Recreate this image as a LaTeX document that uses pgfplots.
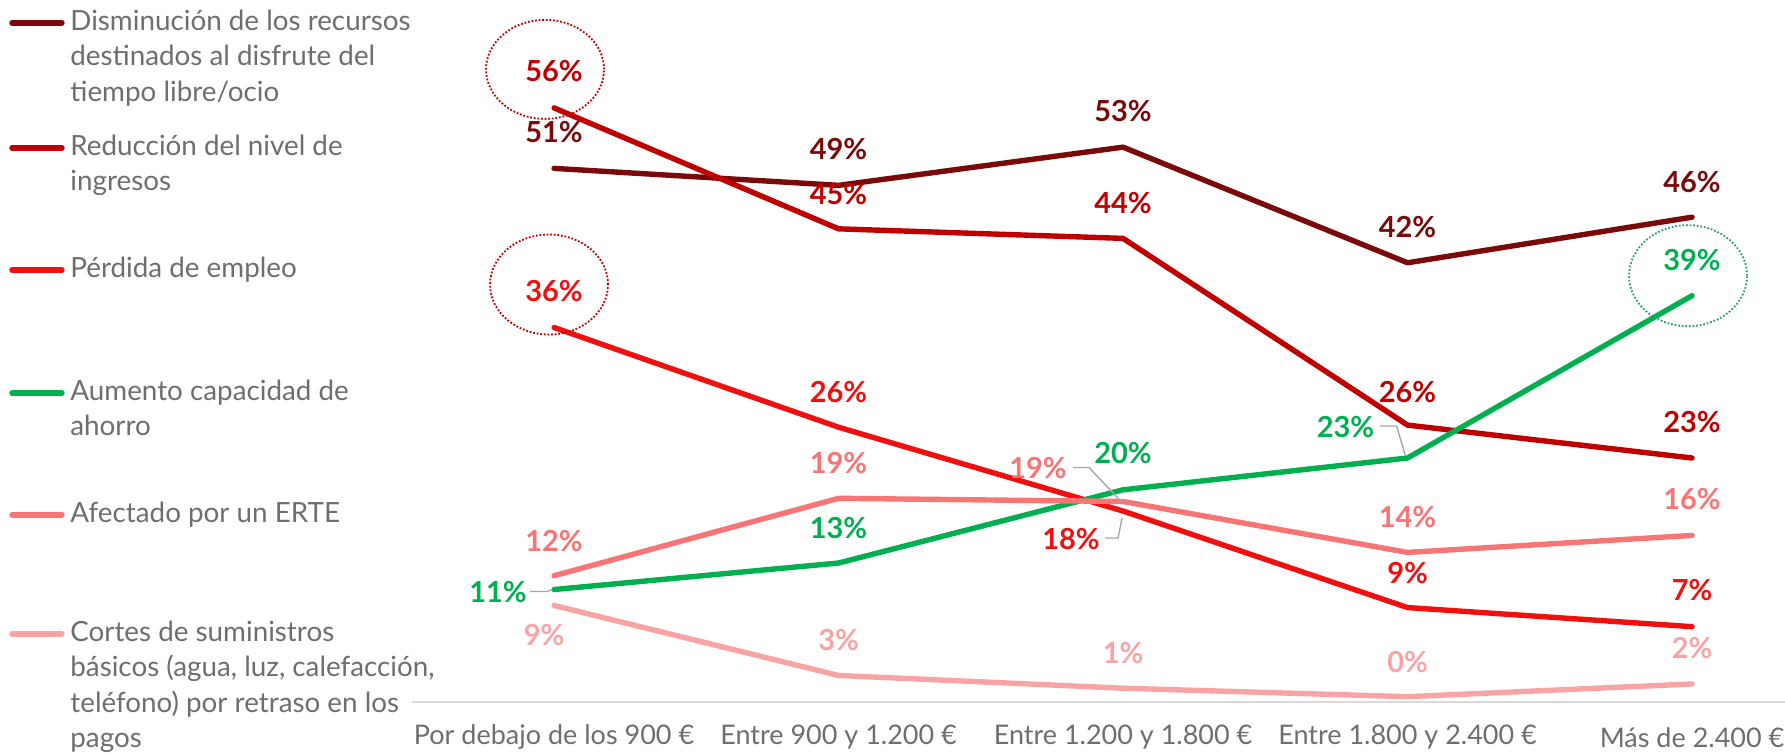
\documentclass[border=0pt]{standalone}
\usepackage{pgfplots}
\pgfplotsset{compat=1.18}
\usepackage{fontspec}
\setmainfont{Lato}
\definecolor{cDis}{HTML}{7A0A0A}
\definecolor{cRed}{HTML}{C00000}
\definecolor{cPer}{HTML}{F01010}
\definecolor{cAum}{HTML}{00B050}
\definecolor{cErte}{HTML}{F87575}
\definecolor{cCor}{HTML}{F9A4A4}
\definecolor{cTxt}{HTML}{6E6E6E}
\definecolor{cLead}{HTML}{A6A6A6}
\definecolor{cAxis}{HTML}{D9D9D9}
\definecolor{cCircR}{HTML}{C00000}
\definecolor{cCircG}{HTML}{2E9E6E}
\newcommand\labfont{\fontsize{14.5}{16}\selectfont\bfseries}
\newcommand\legfont{\fontsize{13.9}{17.7}\selectfont}
\newcommand\legentry[3]{%
  \draw[#1, line width=2.7pt, line cap=round] (6pt,#2pt) -- (31pt,#2pt);
  \node[anchor=base west, inner sep=0pt, text=cTxt, font=\legfont] at (35pt,{#2pt-3.8pt}) {\parbox[t]{230pt}{\raggedright #3}};
}
\pgfplotsset{
  ser/.style={line width=2.7pt, line cap=round, line join=round, mark=none, color=#1,
    nodes near coords={\pgfplotspointmeta\%},
    point meta=explicit symbolic,
    visualization depends on={value \thisrow{dx}\as\dx},
    visualization depends on={value \thisrow{dy}\as\dy},
    nodes near coords style={anchor=center, inner sep=0pt, xshift=\dx pt, yshift=\dy pt, font=\labfont, text=#1},
  }
}
\begin{document}
\begin{tikzpicture}
\useasboundingbox (0,0) rectangle (892.5pt,377pt);
\legentry{cDis}{365.5}{Disminución de los recursos\\destinados al disfrute del\\tiempo libre/ocio}
\legentry{cRed}{303}{Reducción del nivel de\\ingresos}
\legentry{cPer}{242}{Pérdida de empleo}
\legentry{cAum}{180.5}{Aumento capacidad de\\ahorro}
\legentry{cErte}{119.5}{Afectado por un ERTE}
\legentry{cCor}{60}{Cortes de suministros\\básicos (agua, luz, calefacción,\\teléfono) por retraso en los\\pagos}
\begin{axis}[
  at={(205.9pt,26pt)}, anchor=south west,
  scale only axis, width=687.07pt, height=350.1pt,
  xmin=-0.5, xmax=4.33, ymin=0, ymax=66,
  clip=false,
  hide y axis,
  axis x line=bottom,
  x axis line style={-, draw=cAxis, line width=0.8pt},
  xtick={0,1,2,3,4},
  xticklabels={Por debajo de los 900 €, Entre 900 y 1.200 €, Entre 1.200 y 1.800 €, Entre 1.800 y 2.400 €, Más de 2.400 €},
  major tick length=0pt,
  xticklabel style={anchor=center, yshift=-17.6pt, text=cTxt, font=\fontsize{13.5}{15}\selectfont},
]
\addplot[ser=cDis] table[x=x, y=y, meta=lab] {
x y lab dx dy
0 50.3 51 0 18
1 48.7 49 0 18
2 52.3 53 0 18
3 41.4 42 0 18
4 45.7 46 0 17.5
};
\addplot[ser=cRed] table[x=x, y=y, meta=lab] {
x y lab dx dy
0 56.0 56 0 18.5
1 44.6 45 0 17.5
2 43.7 44 0 17.5
3 26.1 26 0 16.5
4 23.0 23 0 18
};
\addplot[ser=cPer] table[x=x, y=y, meta=lab] {
x y lab dx dy
0 35.3 36 0 18
1 25.9 26 0 17.5
2 18.0 18 -26 -14
3 8.9 9 0 17.5
4 7.1 7 0 18.5
};
\addplot[ser=cAum] table[x=x, y=y, meta=lab] {
x y lab dx dy
0 10.6 11 -28 -1
1 13.1 13 0 17.5
2 20.0 20 0 18.5
3 23.0 23 -31 15.5
4 38.3 39 0 18
};
\addplot[ser=cErte] table[x=x, y=y, meta=lab] {
x y lab dx dy
0 11.9 12 0 17.5
1 19.2 19 0 17.5
2 18.9 19 -42.5 16.5
3 14.1 14 0 17.5
4 15.7 16 0 18
};
\addplot[ser=cCor] table[x=x, y=y, meta=lab] {
x y lab dx dy
0 9.1 9 -5 -15
1 2.5 3 0 17.5
2 1.3 1 0 17.5
3 0.5 0 0 17.5
4 1.7 2 0 18
};
% leader lines
\draw[cLead, line width=0.7pt] ([xshift=-12pt,yshift=-1pt]axis cs:0,10.6) -- ([xshift=-3.5pt,yshift=-1pt]axis cs:0,10.6) -- ([xshift=-1pt]axis cs:0,10.6);
\draw[cLead, line width=0.7pt] ([xshift=-25pt,yshift=17pt]axis cs:2,18.9) -- ([xshift=-17pt,yshift=17pt]axis cs:2,18.9) -- ([xshift=-1pt]axis cs:2,18.9);
\draw[cLead, line width=0.7pt] ([xshift=-9pt,yshift=-13.5pt]axis cs:2,18) -- ([xshift=-2.5pt,yshift=-13.5pt]axis cs:2,18) -- ([xshift=-0.5pt,yshift=-3.5pt]axis cs:2,18);
\draw[cLead, line width=0.7pt] ([xshift=-14pt,yshift=16pt]axis cs:3,23) -- ([xshift=-5.5pt,yshift=16pt]axis cs:3,23) -- ([xshift=-1pt,yshift=1pt]axis cs:3,23);
% dotted ellipses
\draw[cCircR, line width=0.9pt, dash pattern=on 0.9pt off 0.9pt] ([xshift=-4.5pt,yshift=19.25pt]axis cs:0,56) ellipse [x radius=29.5pt, y radius=24.75pt];
\draw[cCircR, line width=0.9pt, dash pattern=on 0.9pt off 0.9pt] ([xshift=-2.5pt,yshift=21.5pt]axis cs:0,35.3) ellipse [x radius=29.5pt, y radius=25pt];
\draw[cCircG, line width=0.9pt, dash pattern=on 0.9pt off 0.9pt] ([xshift=-2pt,yshift=10pt]axis cs:4,38.3) ellipse [x radius=29.5pt, y radius=25.25pt];
\end{axis}
\end{tikzpicture}
\end{document}
